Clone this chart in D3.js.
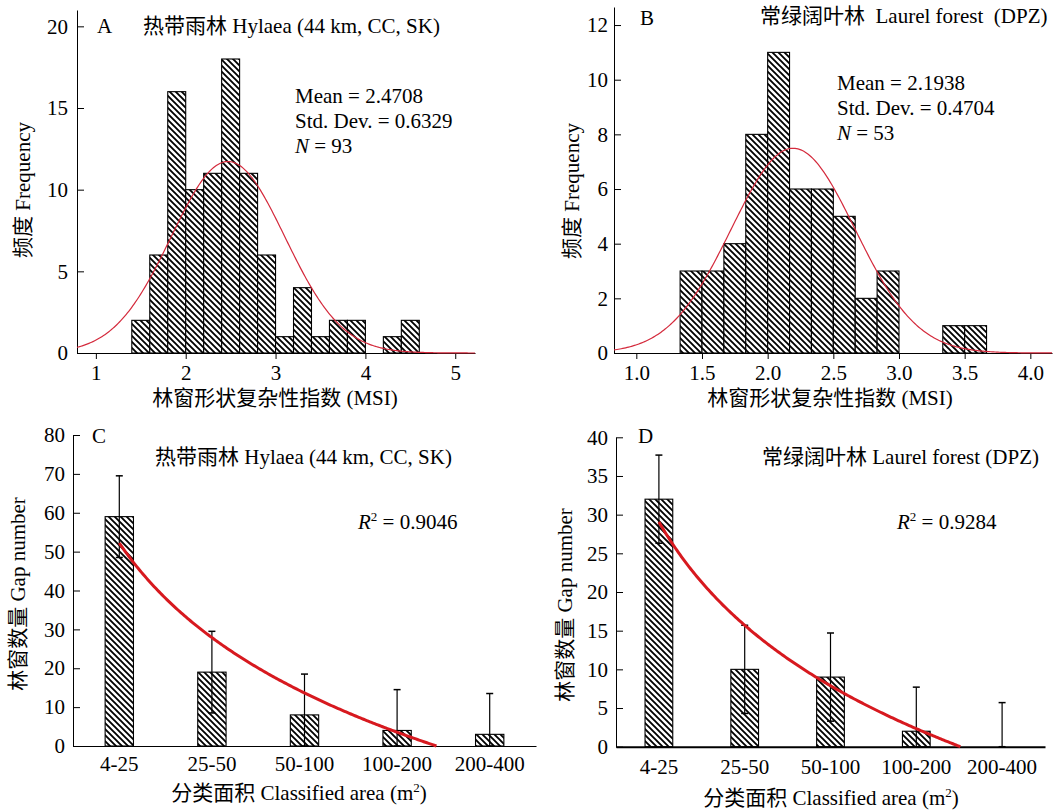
<!DOCTYPE html>
<html>
<head>
<meta charset="utf-8">
<script src="https://cdn.jsdelivr.net/npm/d3@7"></script>
<style>
  body { margin: 0; background: #fff; }
  svg text { font-family: "Liberation Serif", "Times New Roman", "Noto Sans CJK SC", serif; fill: #000; }
</style>
</head>
<body>
<svg id="fig" width="1055" height="811"></svg>
<script>
// ---- Panel A: MSI histogram, tropical rainforest ----
const binStartA = 1.4;
const binWidthA = 0.2;
const countsA = [2, 6, 16, 10, 11, 18, 11, 6, 1, 4, 1, 2, 2, 0, 1, 2];
const meanA = 2.4708, sdA = 0.6329, nA = 93;
const xTicksA = [1, 2, 3, 4, 5];
const yTicksA = [0, 5, 10, 15, 20];

// ---- Panel B: MSI histogram, laurel forest ----
const binStartB = 4 / 3;
const binWidthB = 1 / 6;
const countsB = [3, 3, 4, 8, 11, 6, 6, 5, 2, 3, 0, 0, 1, 1];
const meanB = 2.1938, sdB = 0.4704, nB = 53;
const xTicksB = [1.0, 1.5, 2.0, 2.5, 3.0, 3.5, 4.0];
const yTicksB = [0, 2, 4, 6, 8, 10, 12];

// ---- Panels C, D: gap number by area class ----
const areaClasses = ["4-25", "25-50", "50-100", "100-200", "200-400"];
const gapsC = [59, 19, 8, 4, 3];
const errC = [10.5, 10.5, 10.5, 10.5, 10.5];
const gapsD = [32, 10, 9, 2, 0];
const errD = [5.7, 5.7, 5.7, 5.7, 5.7];
const yTicksC = [0, 10, 20, 30, 40, 50, 60, 70, 80];
const yTicksD = [0, 5, 10, 15, 20, 25, 30, 35, 40];

const svg = d3.select("#fig");
const FS = 21;

// diagonal hatch fill
const defs = svg.append("defs");
defs.append("pattern")
  .attr("id", "hatch").attr("patternUnits", "userSpaceOnUse")
  .attr("width", 6).attr("height", 6)
  .call(p => {
    p.append("rect").attr("width", 6).attr("height", 6).attr("fill", "#fff");
    p.append("path").attr("d", "M0,0L6,6M-1,5L1,7M5,-1L7,1")
      .attr("stroke", "#000").attr("stroke-width", 1.85);
  });

function styleAxis(g) {
  g.selectAll("path, line").attr("stroke", "#000").attr("stroke-width", 1);
  g.selectAll("text").attr("font-size", FS).attr("fill", "#000");
  g.attr("font-family", null).attr("font-size", null);
}

function normalPdf(x, m, s) {
  return Math.exp(-0.5 * ((x - m) / s) ** 2) / (s * Math.sqrt(2 * Math.PI));
}

function histogram(opt) {
  const { x, y, counts, start, width, mean, sd, n, xTicks, yTicks, xFmt, yPad } = opt;
  const g = svg.append("g");

  g.selectAll("rect.bar")
    .data(counts.map((c, i) => ({ c, x0: start + i * width, x1: start + (i + 1) * width })).filter(d => d.c > 0))
    .join("rect")
    .attr("x", d => x(d.x0))
    .attr("width", d => x(d.x1) - x(d.x0))
    .attr("y", d => y(d.c))
    .attr("height", d => y(0) - y(d.c))
    .attr("fill", "url(#hatch)")
    .attr("stroke", "#000").attr("stroke-width", 1.1);

  const [d0, d1] = x.domain();
  const curve = d3.range(0, 301).map(k => {
    const v = d0 + (d1 - d0) * k / 300;
    return [v, n * width * normalPdf(v, mean, sd)];
  });

  g.append("g").attr("transform", `translate(0,${y(0)})`)
    .call(d3.axisBottom(x).tickValues(xTicks).tickFormat(xFmt).tickSize(6).tickSizeOuter(0).tickPadding(6))
    .call(styleAxis);
  g.append("g").attr("transform", `translate(${x.range()[0]},0)`)
    .call(d3.axisLeft(y).tickValues(yTicks).tickSize(-7).tickSizeOuter(0).tickPadding(yPad))
    .call(styleAxis);

  g.append("path")
    .attr("d", d3.line().x(d => x(d[0])).y(d => y(d[1]))(curve))
    .attr("fill", "none").attr("stroke", "#d42a3c").attr("stroke-width", 1.2);
  return g;
}

function gapBars(opt) {
  const { x, y, values, errs, yTicks, barFrac, xPad, yPad, axisWidth } = opt;
  const g = svg.append("g");
  const bw = x.bandwidth() * barFrac;
  const cx = c => x(c) + x.bandwidth() / 2;

  g.selectAll("rect.bar")
    .data(areaClasses.map((c, i) => ({ c, v: values[i], e: errs[i] })).filter(d => d.v > 0))
    .join("rect")
    .attr("x", d => cx(d.c) - bw / 2).attr("width", bw)
    .attr("y", d => y(d.v)).attr("height", d => y(0) - y(d.v))
    .attr("fill", "url(#hatch)").attr("stroke", "#000").attr("stroke-width", 1.1);

  // error bars (lower end clipped at zero)
  const eb = g.selectAll("g.err")
    .data(areaClasses.map((c, i) => ({ c, hi: values[i] + errs[i], lo: Math.max(0, values[i] - errs[i]) })))
    .join("g");
  eb.append("line")
    .attr("x1", d => cx(d.c)).attr("x2", d => cx(d.c))
    .attr("y1", d => y(d.hi)).attr("y2", d => y(d.lo))
    .attr("stroke", "#000").attr("stroke-width", 1.2);
  eb.append("line")
    .attr("x1", d => cx(d.c) - 3.5).attr("x2", d => cx(d.c) + 3.5)
    .attr("y1", d => y(d.hi)).attr("y2", d => y(d.hi))
    .attr("stroke", "#000").attr("stroke-width", 1.5);
  eb.append("line")
    .attr("x1", d => cx(d.c) - 3.5).attr("x2", d => cx(d.c) + 3.5)
    .attr("y1", d => y(d.lo)).attr("y2", d => y(d.lo))
    .attr("stroke", "#000").attr("stroke-width", 1.5);

  const xa = g.append("g").attr("transform", `translate(0,${y(0)})`)
    .call(d3.axisBottom(x).tickSize(0).tickPadding(xPad))
    .call(styleAxis);
  xa.select("path").attr("stroke-width", axisWidth);
  g.append("g").attr("transform", `translate(${x.range()[0]},0)`)
    .call(d3.axisLeft(y).tickValues(yTicks).tickSize(-7).tickSizeOuter(0).tickPadding(yPad))
    .call(styleAxis);

  // logarithmic trend: y = a + b ln(k), k = 1..5
  const ks = values.map((_, i) => i + 1);
  const lx = ks.map(Math.log);
  const mx = d3.mean(lx), my = d3.mean(values);
  const b = d3.sum(lx.map((l, i) => (l - mx) * (values[i] - my))) / d3.sum(lx.map(l => (l - mx) ** 2));
  const a = my - b * mx;
  const kEnd = Math.exp(-a / b);
  const kx = d3.scaleLinear().domain([1, ks.length]).range([cx(areaClasses[0]), cx(areaClasses[ks.length - 1])]);
  const pts = d3.range(0, 201).map(j => {
    const k = 1 + (kEnd - 1) * j / 200;
    return [k, Math.max(0, a + b * Math.log(k))];
  });
  g.append("path")
    .attr("d", d3.line().x(d => kx(d[0])).y(d => y(d[1]))(pts))
    .attr("fill", "none").attr("stroke", "#d7191f").attr("stroke-width", 3);
  return g;
}

// ---------- Panel A ----------
const xA = d3.scaleLinear().domain([0.79, 5.22]).range([77, 475]);
const yA = d3.scaleLinear().domain([0, 21]).range([353, 10]);
histogram({ x: xA, y: yA, counts: countsA, start: binStartA, width: binWidthA,
  mean: meanA, sd: sdA, n: nA, xTicks: xTicksA, yTicks: yTicksA, xFmt: d3.format("d"), yPad: 9 });

// ---------- Panel B ----------
const xB = d3.scaleLinear().domain([0.83, 4.165]).range([614, 1052]);
const yB = d3.scaleLinear().domain([0, 12.66]).range([353, 7]);
histogram({ x: xB, y: yB, counts: countsB, start: binStartB, width: binWidthB,
  mean: meanB, sd: sdB, n: nB, xTicks: xTicksB, yTicks: yTicksB, xFmt: d3.format(".1f"), yPad: 6 });

// ---------- Panel C ----------
const xC = d3.scaleBand().domain(areaClasses).range([73, 536]).padding(0);
const yC = d3.scaleLinear().domain([0, 80]).range([746, 435]);
gapBars({ x: xC, y: yC, values: gapsC, errs: errC, yTicks: yTicksC, barFrac: 0.306, xPad: 10, yPad: 8, axisWidth: 1.2 });

// ---------- Panel D ----------
const xD = d3.scaleBand().domain(areaClasses).range([616, 1045]).padding(0);
const yD = d3.scaleLinear().domain([0, 40]).range([746.7, 437.3]);
gapBars({ x: xD, y: yD, values: gapsD, errs: errD, yTicks: yTicksD, barFrac: 0.323, xPad: 12, yPad: 8, axisWidth: 2 });

// ---------- text ----------
function label(x, y, str, anchor = "start") {
  return svg.append("text").attr("x", x).attr("y", y).attr("font-size", FS)
    .attr("text-anchor", anchor).style("white-space", "pre").text(str);
}
function vlabel(x, y, str) {
  svg.append("text").attr("transform", `translate(${x},${y}) rotate(-90)`)
    .attr("dy", "0.35em").attr("text-anchor", "middle").attr("font-size", FS).text(str);
}
function stats(x, y0, mean, sd, n) {
  label(x, y0, `Mean = ${mean.toFixed(4)}`);
  label(x, y0 + 25, `Std. Dev. = ${sd.toFixed(4)}`);
  const t = label(x, y0 + 50, "");
  t.append("tspan").attr("font-style", "italic").text("N");
  t.append("tspan").text(` = ${n}`);
}
function r2(x, y, val) {
  const t = label(x, y, "");
  t.append("tspan").attr("font-style", "italic").text("R");
  t.append("tspan").attr("font-size", 13).attr("dy", -8).text("2");
  t.append("tspan").attr("dy", 8).text(` = ${val}`);
}
function areaLabel(x, y) {
  const t = label(x, y, "分类面积 Classified area (m", "middle");
  t.append("tspan").attr("font-size", 13).attr("dy", -8).text("2");
  t.append("tspan").attr("dy", 8).text(")");
}

label(97, 33, "A");
label(143, 33, "热带雨林 Hylaea (44 km, CC, SK)");
stats(295, 103, meanA, sdA, nA);
vlabel(23, 190, "频度 Frequency");
label(275, 405, "林窗形状复杂性指数 (MSI)", "middle");

label(640, 25, "B");
label(760, 23, "常绿阔叶林  Laurel forest  (DPZ)");
stats(837, 90, meanB, sdB, nB);
vlabel(572, 191, "频度 Frequency");
label(830, 405, "林窗形状复杂性指数 (MSI)", "middle");

label(92, 443, "C");
label(155, 464, "热带雨林 Hylaea (44 km, CC, SK)");
r2(358, 529, "0.9046");
vlabel(18, 594, "林窗数量 Gap number");
areaLabel(299, 800);

label(638, 443, "D");
label(762, 464, "常绿阔叶林 Laurel forest (DPZ)");
r2(897, 529, "0.9284");
vlabel(565, 605, "林窗数量 Gap number");
areaLabel(831, 805);
</script>
</body>
</html>
